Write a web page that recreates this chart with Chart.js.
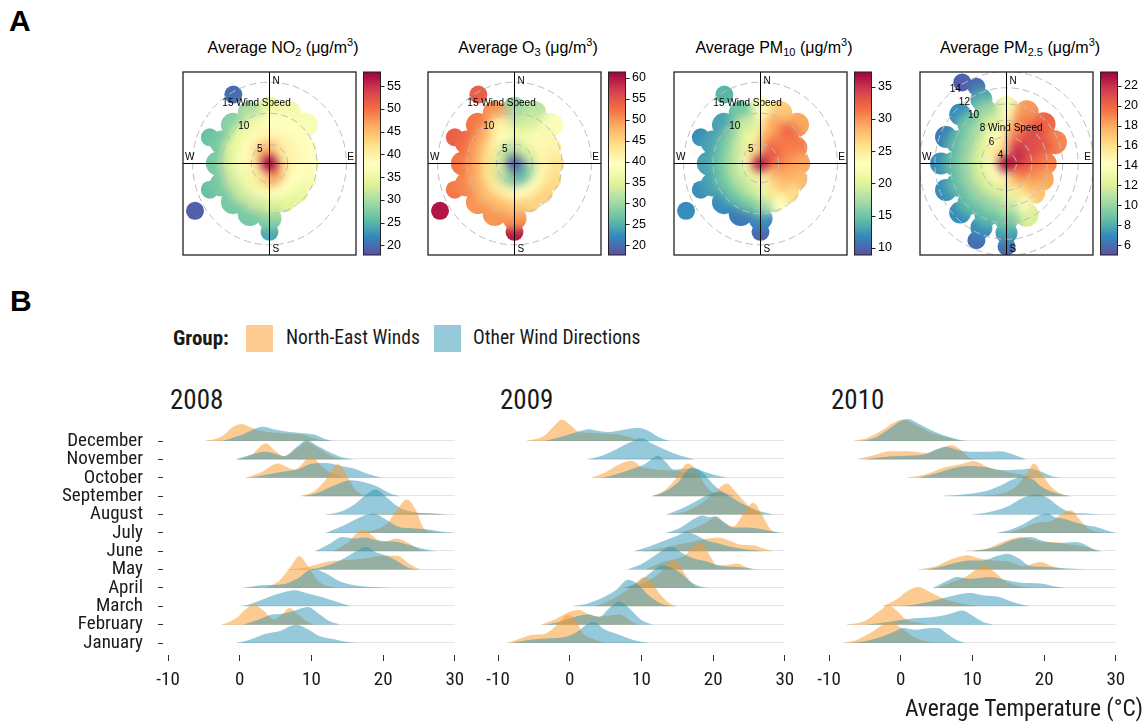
<!DOCTYPE html>
<html lang="en">
<head>
<meta charset="UTF-8">
<title>Pollution roses and monthly temperature ridgelines</title>
<style>
    body {
        margin: 0;
        width: 1148px;
        height: 723px;
        position: relative;
        overflow: hidden;
        background: #fff;
        font-family: "Liberation Sans", Arial, sans-serif;
        color: #000;
    }
    canvas, .txt { position: absolute; }
    .tag { font: bold 30px/30px "Liberation Sans", Arial, sans-serif; }
    .rose-title {
        width: 240px;
        top: 40px;
        text-align: center;
        white-space: nowrap;
        font-size: 16px;
        line-height: 16px;
    }
    .rose-title sub, .rose-title sup { font-size: 11px; line-height: 0; }
    .rose-title sub { vertical-align: -3px; }
    .rose-title sup { vertical-align: 7px; }
    .cond { font-family: "Roboto Condensed", Roboto, sans-serif; color: #1a1a1a; white-space: nowrap; }
    .year { font-size: 27px; line-height: 27px; top: 387px; }
    .swatch { width: 27px; height: 27px; top: 325px; }
</style>
</head>
<body>
    <div class="txt tag" style="left:9px;top:6px">A</div>
    <div class="txt tag" style="left:10px;top:286px">B</div>

    <div class="txt rose-title" style="left:163px">Average NO<sub>2</sub> (&mu;g/m<sup>3</sup>)</div>
    <div class="txt rose-title" style="left:408px">Average O<sub>3</sub> (&mu;g/m<sup>3</sup>)</div>
    <div class="txt rose-title" style="left:654px">Average PM<sub>10</sub> (&mu;g/m<sup>3</sup>)</div>
    <div class="txt rose-title" style="left:900px">Average PM<sub>2.5</sub> (&mu;g/m<sup>3</sup>)</div>

    <canvas id="rose0" width="236" height="200" style="left:175px;top:64px"></canvas>
    <canvas id="rose1" width="236" height="200" style="left:420px;top:64px"></canvas>
    <canvas id="rose2" width="236" height="200" style="left:666px;top:64px"></canvas>
    <canvas id="rose3" width="236" height="200" style="left:912px;top:64px"></canvas>

    <div class="txt cond" style="left:173px;top:328px;font-size:21px;line-height:21px;font-weight:bold">Group:</div>
    <div class="txt swatch" style="left:246px;background:rgb(253,203,146)"></div>
    <div class="txt cond" style="left:286px;top:328px;font-size:19.5px;line-height:19.5px">North-East Winds</div>
    <div class="txt swatch" style="left:434px;background:rgb(150,201,217)"></div>
    <div class="txt cond" style="left:473px;top:328px;font-size:19.5px;line-height:19.5px">Other Wind Directions</div>

    <div class="txt cond year" style="left:170px">2008</div>
    <div class="txt cond year" style="left:500px">2009</div>
    <div class="txt cond year" style="left:831px">2010</div>

    <canvas id="ridge0" width="470" height="310" style="left:0;top:390px"></canvas>
    <canvas id="ridge1" width="320" height="310" style="left:480px;top:390px"></canvas>
    <canvas id="ridge2" width="338" height="310" style="left:810px;top:390px"></canvas>

    <div class="txt cond" style="right:5px;top:697px;font-size:23.5px;line-height:23.5px">Average Temperature (°C)</div>

    <script src="https://cdn.jsdelivr.net/npm/chart.js"></script>
    <script>
        // ---------- panel A: polar plots ----------
        const directions = ['N', 'NNE', 'NE', 'ENE', 'E', 'ESE', 'SE', 'SSE', 'S', 'SSW', 'SW', 'WSW', 'W', 'WNW', 'NW', 'NNW'];
        const roseSpeeds = [4.1, 6.3, 8.5, 10.7, 12.9];
        const pm25Speeds = [4.4, 6.1, 7.8, 9.5, 11.2, 12.9];

        const no2Ticks = [20, 25, 30, 35, 40, 45, 50, 55];
        const o3Ticks = [20, 25, 30, 35, 40, 45, 50, 55, 60];
        const pm10Ticks = [10, 15, 20, 25, 30, 35];
        const pm25Ticks = [6, 8, 10, 12, 14, 16, 18, 20, 22];

        // one row per wind speed level, one column per direction (N clockwise), null = no data
        const no2Centre = 58;
        const no2Grid = [
            [48, 45, 42, 41, 40, 41, 42, 45, 48, 45, 42, 40, 40, 40, 42, 45],
            [39, 39, 39, 39, 39, 38, 38, 38, 37, 37, 36, 36, 37, 37, 38, 39],
            [38, 38, 38, 38, 38, 37, 35, 34, 33, 32, 32, 32, 33, 34, 35, 36],
            [35, 36, 37, null, null, null, null, null, 28, 27, 27, 27, 27, 27, 28, 30],
            [null, null, null, null, null, null, null, null, 24, null, null, 26, null, 26, null, null]
        ];
        const no2Extra = [[239, 16.7, 19], [331, 14.6, 20]];  // [direction, wind speed, value]

        const o3Centre = 19;
        const o3Grid = [
            [30, 32, 34, 34, 33, 31, 29, 27, 25, 27, 29, 32, 34, 35, 34, 32],
            [36, 37, 40, 41, 41, 41, 40, 40, 40, 41, 42, 43, 44, 44, 42, 39],
            [32, 34, 38, 41, 43, 44, 45, 45, 46, 47, 47, 48, 49, 49, 48, 42],
            [30, 32, 39, null, null, null, null, null, 50, 50, 50, 51, 52, 53, 52, 50],
            [null, null, null, null, null, null, null, null, 60, null, null, 52, null, 54, null, null]
        ];
        const o3Extra = [[239, 16.7, 60], [331, 14.6, 54]];

        const pm10Centre = 36;
        const pm10Grid = [
            [30, 32, 33, 33, 32, 31, 29, 27, 25, 22, 21, 21, 21, 22, 23, 26],
            [25, 29, 31, 31, 30, 29, 28, 26, 21, 19, 18, 18, 18, 18, 19, 21],
            [24, 29, 32, 31, 29, 28, 26, 23, 17, 15, 15, 15, 15, 15, 16, 19],
            [23, 27, 29, null, null, null, null, null, 12, 11, 12, 13, 13, 13, 13, 15],
            [null, null, null, null, null, null, null, null, 10, null, null, 12, null, 12, null, null]
        ];
        const pm10Extra = [[239, 16.7, 12], [331, 14.6, 14]];

        const pm25Centre = 23;
        const pm25Grid = [
            [19, 21, 22, 22, 22, 21, 20, 19, 17, 15, 14, 14, 14, 14, 15, 16],
            [16, 19, 21, 21, 20, 19, 18, 16, 13, 12, 12, 12, 12, 12, 12.5, 14],
            [14.5, 19, 21, 20.5, 19, 18, 17, 14, 11, 10, 10, 10, 10, 10, 10.5, 12],
            [13.5, 18.5, 20, 19, null, null, null, 12, 9, 8.5, 8.5, 8.5, 8.5, 8.5, 9, 10],
            [null, null, null, null, null, null, null, null, 7.5, 7, 7, 7, 7, 6.5, 7, 8],
            [null, null, null, null, null, null, null, null, 6, 6, null, null, null, null, null, 6]
        ];
        const pm25Extra = [[330, 14.2, 5.5]];

        // ---------- panel B: temperature ridgelines ----------
        const months = ['January', 'February', 'March', 'April', 'May', 'June', 'July', 'August', 'September', 'October', 'November', 'December'];
        const years = ['2008', '2009', '2010'];
        const groups = ['North-East Winds', 'Other Wind Directions'];
        const tempTicks = [-10, 0, 10, 20, 30];

        // per month (January first): [temperature, density height in ridge rows]
        const northEast2008 = [
            [],
            [[-2.5, 0], [-0.5, 0.35], [1, 0.9], [2, 1.11], [3.2, 0.8], [4.8, 0.3], [6, 0.6], [6.9, 0.91], [8, 0.6], [9.5, 0.15], [10.5, 0]],
            [],
            [[3.5, 0], [5.5, 0.4], [7, 1.1], [8.3, 1.73], [9.5, 1.2], [11, 0.35], [12.5, 0.08], [14, 0]],
            [[6.5, 0], [9, 0.1], [11, 0.3], [12.5, 0.45], [14, 0.5], [16, 0.55], [18, 0.65], [20, 0.75], [22, 0.75], [23.5, 0.35], [25, 0.05], [26, 0]],
            [[13, 0], [15, 0.45], [17.2, 1.18], [18.5, 0.85], [20, 0.5], [21.9, 0.69], [23.5, 0.45], [25, 0.1], [26, 0]],
            [[16, 0], [18.5, 0.15], [20.5, 0.5], [22, 1.3], [23.3, 1.82], [24.5, 1.3], [25.6, 0.3], [27, 0.05], [28, 0]],
            [[18, 0], [22, 0.06], [26, 0.08], [29, 0]],
            [[8.5, 0], [10.5, 0.3], [12, 0.9], [13.7, 1.75], [15, 1.1], [16, 0.4], [17, 0.1], [18, 0]],
            [[0.8, 0], [3, 0.3], [5.3, 0.78], [7.6, 0.45], [10, 1.15], [11.5, 0.6], [13, 0.2], [15, 0]],
            [[-0.5, 0], [1.5, 0.2], [3.6, 0.87], [5, 0.45], [6.2, 0.18], [8, 0.6], [9.3, 0.95], [11, 0.6], [13, 0.15], [14.5, 0]],
            [[-4.8, 0], [-2.5, 0.25], [-1, 0.75], [0.2, 0.93], [1.5, 0.75], [3, 0.55], [5, 0.45], [7, 0.4], [9, 0.35], [10, 0.2], [11.5, 0.05], [13, 0]]
        ];
        const other2008 = [
            [[-0.5, 0], [1.5, 0.2], [3.5, 0.5], [5.5, 0.65], [7.9, 1.0], [9.5, 0.75], [11, 0.4], [13, 0.22], [15.5, 0.03], [16.5, 0]],
            [[0.5, 0], [2.5, 0.25], [4.5, 0.55], [6, 0.6], [7.5, 0.75], [9.5, 0.96], [11, 0.6], [12.5, 0.2], [14, 0]],
            [[0.3, 0], [2, 0.2], [4, 0.5], [6, 0.75], [7.6, 0.87], [9.5, 0.7], [11.5, 0.5], [13.5, 0.25], [15.5, 0]],
            [[0.5, 0], [3, 0.15], [6, 0.2], [8, 0.5], [10.2, 1.05], [12, 0.8], [14, 0.35], [16.5, 0.12], [20, 0.02], [21, 0]],
            [[10, 0], [12, 0.2], [14, 0.5], [16, 0.95], [17.7, 1.24], [19, 0.95], [20.5, 0.75], [22, 0.45], [23.5, 0.1], [25, 0]],
            [[10.5, 0], [12.5, 0.4], [14.3, 0.78], [16, 0.7], [17.5, 0.75], [19, 0.6], [20.5, 0.55], [22, 0.5], [24, 0.3], [26, 0.1], [27.5, 0]],
            [[12, 0], [14.5, 0.4], [16.5, 0.8], [18.6, 1.05], [20.5, 0.7], [22, 0.35], [24, 0.25], [26, 0.2], [28, 0.08], [30, 0]],
            [[12, 0], [14, 0.15], [16, 0.55], [17.7, 1.1], [19, 1.36], [20.3, 1.0], [22, 0.45], [24, 0.15], [26.5, 0.06], [29, 0]],
            [[9, 0], [11, 0.2], [13, 0.55], [15.5, 0.87], [17.5, 0.75], [19, 0.55], [21, 0.15], [22.5, 0]],
            [[1.5, 0], [4, 0.2], [6, 0.33], [8, 0.45], [10.2, 0.78], [12, 0.8], [14, 0.65], [16, 0.5], [18, 0.2], [20, 0]],
            [[-0.5, 0], [1.5, 0.25], [3.6, 0.42], [5, 0.3], [6.2, 0.18], [8, 0.7], [9.3, 1.05], [11, 0.7], [12, 0.5], [14, 0.15], [16, 0]],
            [[-2.5, 0], [0, 0.3], [2, 0.65], [3.2, 0.78], [5, 0.62], [7, 0.5], [9.3, 0.42], [10.5, 0.35], [12, 0.1], [13, 0]]
        ];
        const northEast2009 = [
            [[-8.7, 0], [-6.5, 0.3], [-5.2, 0.45], [-3.5, 0.5], [-2, 0.9], [-0.2, 1.55], [1, 1.1], [1.8, 0.55], [3.5, 0.2], [5, 0]],
            [[-4, 0], [-2, 0.3], [0, 0.7], [1.3, 0.82], [2.5, 0.6], [4, 0.45], [5.5, 0.5], [7, 0.55], [8.5, 0.2], [9.5, 0]],
            [[3.5, 0], [5.5, 0.3], [7.5, 0.75], [9, 1.2], [10.4, 1.6], [11.5, 1.3], [12.5, 0.7], [14, 0.15], [15, 0]],
            [[8.5, 0], [10.5, 0.3], [12.5, 0.8], [14.4, 1.51], [15.5, 1.1], [16.5, 0.5], [17.5, 0.1], [18.5, 0]],
            [[10.5, 0], [12.5, 0.35], [14.5, 0.55], [16, 0.75], [17.2, 1.2], [18.4, 1.42], [19.5, 0.8], [20.5, 0.25], [22, 0.25], [23.3, 0.33], [24.5, 0.15], [25.6, 0]],
            [[10, 0], [12.5, 0.15], [15, 0.35], [17.5, 0.55], [20.7, 0.75], [22.5, 0.55], [24, 0.35], [25.6, 0.33], [27, 0.15], [28.5, 0]],
            [[15, 0], [17, 0.2], [19, 0.55], [20.3, 0.85], [21.5, 0.55], [22.8, 0.35], [24.3, 1.1], [25.6, 1.64], [26.8, 1.0], [28, 0.2], [29, 0]],
            [[14, 0], [16, 0.15], [18, 0.5], [20, 1.1], [21.9, 1.69], [23, 1.3], [24.2, 0.78], [25.5, 0.3], [27, 0]],
            [[11.5, 0], [13, 0.25], [14.5, 0.8], [16.5, 1.78], [17.5, 1.5], [19, 0.55], [20, 0.2], [21, 0]],
            [[3, 0], [5, 0.3], [7, 0.75], [8.6, 0.93], [10, 0.6], [12, 0.45], [14, 0.4], [15.5, 0.35], [17, 0.2], [18.5, 0]],
            [],
            [[-6, 0], [-3.5, 0.3], [-2, 0.9], [-1.1, 1.18], [0, 0.9], [1.3, 0.5], [3, 0.45], [5, 0.4], [7, 0.35], [8.5, 0.2], [10, 0]]
        ];
        const other2009 = [
            [[-8, 0], [-6, 0.15], [-3.5, 0.25], [-1, 0.3], [1, 0.6], [2.3, 1.0], [3.4, 1.15], [4.8, 0.75], [6.9, 0.45], [9, 0.15], [11, 0]],
            [[-3.5, 0], [-1.5, 0.15], [0.5, 0.4], [2.5, 0.55], [4.1, 0.42], [5.5, 0.9], [6.9, 1.27], [8.3, 0.9], [10, 0.25], [11.5, 0]],
            [[0.5, 0], [2.5, 0.15], [4.5, 0.45], [6.5, 0.9], [8.1, 1.45], [9.5, 1.2], [11, 0.6], [12.5, 0.2], [14, 0.03], [15, 0]],
            [[7.5, 0], [9.5, 0.3], [11.5, 0.9], [13, 1.24], [14.2, 1.1], [15.5, 0.8], [17, 0.3], [18.5, 0.05], [19.5, 0]],
            [[8, 0], [10, 0.3], [12, 0.8], [14.2, 1.24], [15.5, 0.95], [17, 0.65], [19, 0.45], [21, 0.2], [23, 0.15], [25, 0.08], [26.5, 0]],
            [[9, 0], [11, 0.25], [13, 0.55], [15, 0.85], [16.3, 1.05], [17.5, 0.9], [19, 0.6], [21, 0.4], [23, 0.2], [25, 0.08], [27, 0]],
            [[13.5, 0], [15.5, 0.3], [17.5, 0.8], [18.5, 0.95], [19.5, 0.85], [20.3, 0.9], [21.5, 0.6], [22.8, 0.3], [24.5, 0.3], [26, 0.25], [28, 0.1], [29.5, 0]],
            [[13.5, 0], [15.5, 0.3], [17.5, 0.7], [19.5, 1.1], [20.9, 1.24], [22.5, 0.95], [24, 0.6], [26, 0.25], [28.5, 0]],
            [[11.5, 0], [13, 0.2], [15, 0.7], [17, 1.56], [18.5, 1.3], [20, 0.65], [21.5, 0.2], [23, 0]],
            [[4.5, 0], [6.5, 0.2], [8.5, 0.45], [10.5, 0.75], [12.3, 1.2], [13.3, 0.9], [14.5, 0.45], [16, 0.5], [17.5, 0.5], [19, 0.3], [21, 0.08], [22, 0]],
            [[2.5, 0], [4.5, 0.2], [6.5, 0.55], [8.5, 0.95], [10, 1.15], [11.5, 0.85], [13.5, 0.5], [15.5, 0.2], [17.5, 0]],
            [[-3.5, 0], [-1, 0.25], [1, 0.5], [2.7, 0.64], [4, 0.55], [5.5, 0.5], [7.5, 0.62], [9.5, 0.73], [11, 0.55], [12.5, 0.2], [14, 0]]
        ];
        const northEast2010 = [
            [[-8, 0], [-6, 0.2], [-4, 0.6], [-2.5, 1.0], [-1.5, 1.15], [0, 0.85], [1.8, 0.35], [3.5, 0.1], [5, 0]],
            [[-7.5, 0], [-5, 0.2], [-3, 0.75], [-1.7, 1.05], [-0.5, 0.75], [0.8, 0.25], [2.5, 0.1], [4, 0]],
            [[-2.5, 0], [-0.5, 0.4], [1, 0.85], [2.5, 1.05], [4, 0.8], [6, 0.42], [8, 0.2], [10, 0.05], [11, 0]],
            [[5, 0], [7, 0.3], [9, 0.6], [10.5, 1.0], [11.6, 1.24], [13, 0.9], [14.5, 0.4], [16, 0.15], [18, 0]],
            [[2.5, 0], [5, 0.2], [7, 0.55], [9.3, 0.78], [11, 0.6], [13, 0.5], [15, 0.45], [17, 0.2], [19.5, 0.42], [21, 0.2], [23, 0]],
            [[9, 0], [12, 0.15], [14.5, 0.55], [16.7, 0.78], [18.5, 0.6], [20, 0.5], [21.4, 0.5], [23, 0.4], [25, 0.3], [26.5, 0.15], [28, 0]],
            [[15, 0], [17, 0.25], [19, 0.55], [21, 0.65], [22.5, 1.05], [23.7, 1.24], [25, 0.7], [26, 0.3], [27.5, 0.05], [28.5, 0]],
            [],
            [[11, 0], [14, 0.15], [16, 0.5], [17.5, 1.2], [18.6, 1.78], [19.7, 1.2], [21, 0.5], [22.5, 0.1], [23.5, 0]],
            [[1, 0], [3.5, 0.2], [6, 0.55], [8.5, 0.75], [10.2, 0.91], [12, 0.6], [14.5, 0.35], [16.5, 0.2], [18.5, 0.05], [19.5, 0]],
            [[-6, 0], [-4, 0.2], [-1.5, 0.45], [1, 0.45], [3.6, 0.35], [5.5, 0.6], [7.1, 0.78], [8.3, 0.55], [9.5, 0.1], [10.5, 0]],
            [[-6.5, 0], [-4.5, 0.2], [-2.5, 0.6], [-1, 1.0], [0.4, 1.18], [2, 0.9], [4, 0.5], [6, 0.25], [8, 0.05], [9, 0]]
        ];
        const other2010 = [
            [[-7, 0], [-5, 0.1], [-3, 0.3], [-1, 0.6], [0.4, 0.82], [2, 0.72], [3.5, 0.8], [5.2, 0.82], [6.5, 0.5], [7.9, 0.15], [9, 0]],
            [[-5, 0], [-2.5, 0.1], [0, 0.25], [2, 0.35], [4.6, 0.42], [6.5, 0.55], [8.6, 0.78], [10, 0.5], [11.5, 0.15], [13, 0]],
            [[0, 0], [2, 0.1], [4, 0.25], [6, 0.45], [8, 0.65], [9.7, 0.73], [11.5, 0.6], [13.7, 0.51], [15.5, 0.25], [18, 0]],
            [[4.5, 0], [6.5, 0.4], [7.9, 0.6], [9.5, 0.5], [11, 0.55], [12.5, 0.6], [14.5, 0.45], [16.5, 0.3], [19.5, 0.24], [21.5, 0.08], [23, 0]],
            [[3.5, 0], [6, 0.2], [8, 0.4], [9.5, 0.5], [11.5, 0.5], [13.5, 0.75], [14.9, 0.87], [16.5, 0.6], [18, 0.2], [20, 0.15], [22, 0.1], [25, 0.03], [26, 0]],
            [[10, 0], [13, 0.2], [15.5, 0.6], [18.1, 0.78], [20, 0.55], [22, 0.45], [24.4, 0.5], [25.5, 0.4], [27, 0.1], [28, 0]],
            [[13.5, 0], [15.5, 0.2], [17.5, 0.55], [19, 0.9], [20.5, 1.05], [21.5, 0.85], [23, 0.75], [24.5, 0.55], [26, 0.4], [27.5, 0.3], [29, 0.1], [30, 0]],
            [[10, 0], [12.5, 0.15], [15, 0.45], [17, 0.9], [19.1, 1.09], [20.5, 0.9], [22, 0.45], [23.5, 0.15], [26, 0.05], [28, 0]],
            [[6, 0], [9, 0.1], [12, 0.3], [14, 0.6], [15.5, 0.9], [17.2, 1.05], [18.5, 0.9], [19.5, 0.55], [21, 0.25], [23, 0.05], [24, 0]],
            [[2.5, 0], [5, 0.25], [7, 0.5], [9.5, 0.65], [11.5, 0.6], [14, 0.42], [16.5, 0.45], [18, 0.5], [19.5, 0.35], [21, 0.1], [22.5, 0]],
            [[-5, 0], [-2, 0.15], [1, 0.2], [3.5, 0.3], [5, 0.55], [6.4, 0.69], [8, 0.5], [9.7, 0.42], [12, 0.42], [13.9, 0.45], [15.5, 0.3], [17.5, 0]],
            [[-5.5, 0], [-3.5, 0.2], [-1.5, 0.7], [0, 1.1], [1, 1.2], [2.5, 0.95], [4.5, 0.55], [6.5, 0.25], [8.5, 0.05], [9.5, 0]]
        ];

        // ---------- styling ----------
        const spectral = ['#5E4FA2', '#3288BD', '#66C2A5', '#ABDDA4', '#E6F598', '#FFFFBF', '#FEE08B', '#FDAE61', '#F46D43', '#D53E4F', '#9E0142'];
        const groupFill = ['rgba(251,151,37,0.5)', 'rgba(45,147,179,0.5)'];
        const roseFont = '"Liberation Sans", Arial, sans-serif';
        const ridgeFont = '"Roboto Condensed", Roboto, sans-serif';

        function hexRgb(h) {
            return [1, 3, 5].map(i => parseInt(h.slice(i, i + 2), 16));
        }

        function spectralColour(p) {
            p = Math.max(0, Math.min(1, p));
            const f = p * 10;
            const i = Math.min(9, Math.floor(f));
            const t = f - i;
            const a = hexRgb(spectral[i]), b = hexRgb(spectral[i + 1]);
            const c = a.map((v, k) => Math.round(v + (b[k] - v) * t));
            return `rgb(${c[0]},${c[1]},${c[2]})`;
        }

        // vertical axes add tick padding above/below the chart area; drop it so the box is exact
        function noVerticalPadding(s) {
            s.paddingTop = 0;
            s.paddingBottom = 0;
        }

        const roses = [
            { canvas: 'rose0', centre: no2Centre, grid: no2Grid, extra: no2Extra, speeds: roseSpeeds, ticks: no2Ticks, min: 17.9, max: 58.1,
              origin: 1.9, pxPerWs: 5.87, rings: [5, 10, 15], speedRing: 15, labelAngle: -36, labelFactor: 0.92, sizes: [9, 10, 11, 12, 9] },
            { canvas: 'rose1', centre: o3Centre, grid: o3Grid, extra: o3Extra, speeds: roseSpeeds, ticks: o3Ticks, min: 17.7, max: 61.4,
              origin: 1.9, pxPerWs: 5.87, rings: [5, 10, 15], speedRing: 15, labelAngle: -36, labelFactor: 0.92, sizes: [9, 10, 11, 12, 9] },
            { canvas: 'rose2', centre: pm10Centre, grid: pm10Grid, extra: pm10Extra, speeds: roseSpeeds, ticks: pm10Ticks, min: 8.9, max: 37.3,
              origin: 1.9, pxPerWs: 5.87, rings: [5, 10, 15], speedRing: 15, labelAngle: -36, labelFactor: 0.92, sizes: [9, 10, 11, 12, 9] },
            { canvas: 'rose3', centre: pm25Centre, grid: pm25Grid, extra: pm25Extra, speeds: pm25Speeds, ticks: pm25Ticks, min: 5.0, max: 23.4,
              origin: 2.7, pxPerWs: 7.7, rings: [4, 6, 8, 10, 12, 14], speedRing: 8, labelAngle: -36, labelFactor: 1.0, sizes: [9, 10, 11, 12, 11, 9] }
        ];

        const roseDecor = {
            id: 'roseDecor',
            afterDatasetsDraw(chart, args, opts) {
                const R = opts.rose;
                const { ctx, chartArea: a } = chart;
                const xs = chart.scales.x, ys = chart.scales.y;
                const cx = xs.getPixelForValue(0), cy = ys.getPixelForValue(0);

                // soften the surface inside the drawn blob so neighbouring cells blend
                const off = document.createElement('canvas');
                off.width = chart.canvas.width;
                off.height = chart.canvas.height;
                const o = off.getContext('2d');
                o.filter = 'blur(5px)';
                o.drawImage(chart.canvas, 0, 0);
                ctx.save();
                ctx.setTransform(1, 0, 0, 1, 0, 0);
                ctx.beginPath();
                ctx.rect(a.left, a.top, a.right - a.left, a.bottom - a.top);
                ctx.clip();
                ctx.globalCompositeOperation = 'source-atop';
                ctx.drawImage(off, 0, 0);
                ctx.drawImage(off, 0, 0);
                ctx.restore();

                ctx.save();
                ctx.beginPath();
                ctx.rect(a.left, a.top, a.right - a.left, a.bottom - a.top);
                ctx.clip();
                ctx.strokeStyle = '#bdbdbd';
                ctx.lineWidth = 1;
                ctx.setLineDash([7, 4]);
                R.rings.forEach(ws => {
                    const rho = ws - R.origin;
                    ctx.beginPath();
                    ctx.ellipse(cx, cy, xs.getPixelForValue(rho) - cx, cy - ys.getPixelForValue(rho), 0, 0, Math.PI * 2);
                    ctx.stroke();
                });
                ctx.setLineDash([]);
                ctx.strokeStyle = '#000';
                ctx.beginPath();
                ctx.moveTo(a.left, cy); ctx.lineTo(a.right, cy);
                ctx.moveTo(cx, a.top); ctx.lineTo(cx, a.bottom);
                ctx.stroke();
                ctx.restore();

                // ring labels
                ctx.save();
                ctx.fillStyle = '#000';
                ctx.font = '10px ' + roseFont;
                ctx.textBaseline = 'middle';
                const ang = R.labelAngle * Math.PI / 180;
                R.rings.forEach(ws => {
                    const rho = (ws - R.origin) * R.labelFactor;
                    const px = xs.getPixelForValue(rho * Math.sin(ang));
                    const py = ys.getPixelForValue(rho * Math.cos(ang));
                    const label = String(ws);
                    const w = ctx.measureText(label).width;
                    ctx.textAlign = 'left';
                    ctx.fillText(ws === R.speedRing ? label + ' Wind Speed' : label, px - w / 2, py);
                });

                // compass points
                ctx.textBaseline = 'top';
                ctx.textAlign = 'left';
                ctx.fillText('N', cx + 3, a.top + 4);
                ctx.textBaseline = 'bottom';
                ctx.fillText('S', cx + 3, a.bottom - 1);
                ctx.fillText('W', a.left + 2, cy - 1);
                ctx.textAlign = 'right';
                ctx.fillText('E', a.right - 2, cy - 1);

                // frame
                ctx.lineWidth = 1.3;
                ctx.strokeStyle = '#222';
                ctx.strokeRect(a.left, a.top, a.right - a.left, a.bottom - a.top);

                // colour key
                const cb = chart.scales.cb;
                const bx = a.right + 7.5, bw = 17;
                const grad = ctx.createLinearGradient(0, a.bottom, 0, a.top);
                spectral.forEach((c, i) => grad.addColorStop(i / 10, c));
                ctx.fillStyle = grad;
                ctx.fillRect(bx, a.top, bw, a.bottom - a.top);
                ctx.lineWidth = 1;
                ctx.strokeStyle = '#222';
                ctx.strokeRect(bx, a.top, bw, a.bottom - a.top);
                ctx.beginPath();
                R.ticks.forEach(v => {
                    const y = Math.round(cb.getPixelForValue(v)) + 0.5;
                    ctx.moveTo(bx + bw, y);
                    ctx.lineTo(bx + bw + 4, y);
                });
                ctx.stroke();
                ctx.restore();
            }
        };

        function buildRose(R) {
            const half = 86.5 / R.pxPerWs;
            const points = [];
            const addPoint = (deg, ws, v, r) => {
                const rho = ws - R.origin;
                const t = deg * Math.PI / 180;
                points.push({ x: rho * Math.sin(t), y: rho * Math.cos(t), r: r, v: v });
            };
            R.extra.forEach(([deg, ws, v]) => addPoint(deg, ws, v, 9));
            for (let ring = R.grid.length - 1; ring >= 0; ring--) {
                R.grid[ring].forEach((v, j) => {
                    if (v !== null) addPoint(j * 360 / directions.length, R.speeds[ring], v, R.sizes[ring]);
                });
            }
            addPoint(0, R.origin, R.centre, 9);

            new Chart(document.getElementById(R.canvas), {
                type: 'bubble',
                data: {
                    datasets: [{
                        data: points,
                        backgroundColor: c => spectralColour((c.raw.v - R.min) / (R.max - R.min)),
                        borderWidth: 0,
                        clip: 0
                    }]
                },
                options: {
                    responsive: false,
                    animation: false,
                    events: [],
                    layout: { autoPadding: false, padding: { left: 8, top: 8, bottom: 9, right: 0 } },
                    plugins: {
                        legend: { display: false },
                        tooltip: { enabled: false },
                        roseDecor: { rose: R }
                    },
                    scales: {
                        x: { type: 'linear', display: false, min: -half, max: half },
                        y: { type: 'linear', display: false, min: -half, max: half },
                        cb: {
                            type: 'linear',
                            position: 'right',
                            min: R.min,
                            max: R.max,
                            afterBuildTicks: s => { s.ticks = R.ticks.map(v => ({ value: v })); },
                            afterFit: s => { s.width = 55; noVerticalPadding(s); },
                            grid: { display: false, drawTicks: false },
                            border: { display: false },
                            ticks: { padding: 31, color: '#000', autoSkip: false, font: { family: roseFont, size: 12.5 } }
                        }
                    }
                },
                plugins: [roseDecor]
            });
        }

        roses.forEach(buildRose);

        // ---------- ridgelines ----------
        const ridgeYears = [
            { canvas: 'ridge0', northEast: northEast2008, other: other2008, padLeft: 0, padRight: 13, labels: true },
            { canvas: 'ridge1', northEast: northEast2009, other: other2009, padLeft: 13, padRight: 13, labels: false },
            { canvas: 'ridge2', northEast: northEast2010, other: other2010, padLeft: 14, padRight: 30, labels: false }
        ];

        const baselines = {
            id: 'baselines',
            beforeDatasetsDraw(chart, args, opts) {
                const { ctx } = chart;
                const xs = chart.scales.x, ys = chart.scales.y;
                ctx.save();
                ctx.strokeStyle = 'rgba(0,0,0,0.1)';
                ctx.lineWidth = 1;
                opts.starts.forEach((t, i) => {
                    if (t === null) return;
                    const y = Math.round(ys.getPixelForValue(i)) - 0.5;
                    ctx.beginPath();
                    ctx.moveTo(xs.getPixelForValue(t), y);
                    ctx.lineTo(xs.getPixelForValue(30), y);
                    ctx.stroke();
                });
                ctx.restore();
            }
        };

        function buildRidges(Y) {
            const datasets = [];
            const starts = [];
            let seq = 0;
            for (let m = months.length - 1; m >= 0; m--) {
                [Y.northEast[m], Y.other[m]].forEach((curve, g) => {
                    if (!curve.length) return;
                    datasets.push({
                        label: groups[g] + ' ' + months[m],
                        data: curve.map(([t, h]) => ({ x: t, y: m + h })),
                        fill: { value: m },
                        backgroundColor: groupFill[g],
                        borderColor: 'rgba(0,0,0,0)',
                        borderWidth: 0,
                        pointRadius: 0,
                        cubicInterpolationMode: 'monotone',
                        order: 1000 - seq++
                    });
                });
            }
            months.forEach((_, m) => {
                const firsts = [Y.northEast[m], Y.other[m]].filter(c => c.length).map(c => c[0][0]);
                starts[m] = firsts.length ? Math.min(...firsts) : null;
            });

            new Chart(document.getElementById(Y.canvas), {
                type: 'line',
                data: { datasets },
                options: {
                    responsive: false,
                    animation: false,
                    events: [],
                    layout: { autoPadding: false, padding: { left: Y.padLeft, right: Y.padRight, top: 14, bottom: 0 } },
                    plugins: {
                        legend: { display: false },
                        tooltip: { enabled: false },
                        baselines: { starts }
                    },
                    scales: {
                        x: {
                            type: 'linear',
                            min: -10.7,
                            max: 30.3,
                            afterBuildTicks: s => { s.ticks = tempTicks.map(v => ({ value: v })); },
                            afterFit: s => { s.height = 45; s.paddingLeft = 0; s.paddingRight = 0; },
                            grid: { drawOnChartArea: false, drawTicks: true, tickLength: 6, color: '#333' },
                            border: { display: false },
                            ticks: { padding: 8, color: '#1a1a1a', autoSkip: false, maxRotation: 0, font: { family: ridgeFont, size: 19 } }
                        },
                        y: {
                            type: 'linear',
                            display: Y.labels,
                            min: -0.65,
                            max: 13.02,
                            afterBuildTicks: s => { s.ticks = months.map((_, i) => ({ value: i })); },
                            afterFit: s => { if (Y.labels) s.width = 163; noVerticalPadding(s); },
                            grid: { drawOnChartArea: false, drawTicks: true, tickLength: 5, color: '#333' },
                            border: { display: false },
                            ticks: {
                                padding: 15,
                                color: '#1a1a1a',
                                autoSkip: false,
                                font: { family: ridgeFont, size: 19 },
                                callback: v => months[v]
                            }
                        }
                    }
                },
                plugins: [baselines]
            });
        }

        ridgeYears.forEach(buildRidges);
    </script>
</body>
</html>
